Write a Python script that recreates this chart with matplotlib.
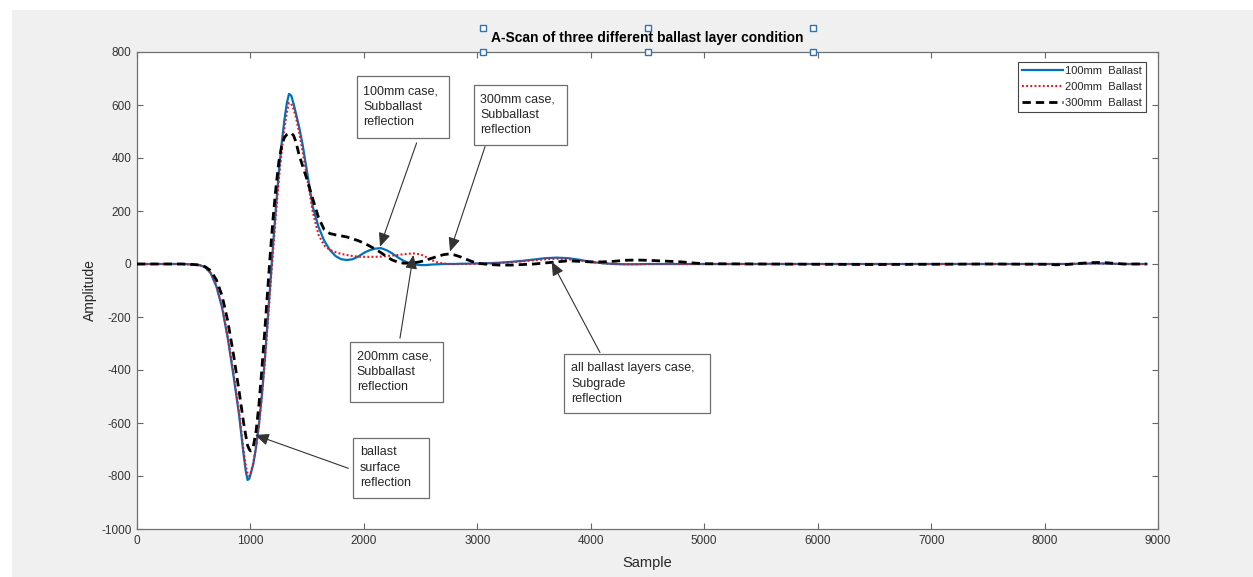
import numpy as np
import matplotlib
matplotlib.use("Agg")
import matplotlib.pyplot as plt
from matplotlib.patches import Rectangle
from matplotlib.lines import Line2D

plt.rcParams['font.family'] = ['Liberation Sans', 'DejaVu Sans']
plt.rcParams['axes.unicode_minus'] = False

# ---------------- data ----------------
sample = [0, 400, 500, 550, 600, 650, 700, 750, 800, 850, 900, 940, 960, 975, 990,
          1000, 1025, 1050, 1075, 1100, 1125, 1150, 1175, 1200, 1225, 1250, 1275,
          1300, 1320, 1340, 1360, 1380, 1400, 1430, 1460, 1500, 1550, 1600, 1650,
          1700, 1750, 1800, 1850, 1900, 1950, 2000, 2050, 2100, 2150, 2200, 2250,
          2300, 2350, 2400, 2450, 2500, 2550, 2600, 2650, 2700, 2750, 2800, 2850,
          2900, 2950, 3000, 3100, 3200, 3300, 3400, 3500, 3600, 3700, 3800, 3900,
          4000, 4100, 4200, 4300, 4400, 4500, 4600, 4700, 4800, 4900, 5000, 5500,
          6000, 6500, 7000, 7500, 8000, 8100, 8200, 8300, 8400, 8500, 8600, 8700,
          8800, 8900]

ballast_100 = [0, 0, -2, -4, -12, -35, -85, -165, -280, -420, -570, -720, -785, -815, -810,
               -795, -755, -690, -605, -500, -370, -225, -75, 75, 215, 345, 455,
               545, 605, 642, 635, 605, 570, 515, 450, 345, 215, 140, 88,
               53, 30, 18, 15, 18, 28, 42, 52, 58, 60, 52, 40,
               25, 12, 3, -2, -4, -4, -2, -1, 0, 0, 0, 1,
               1, 2, 2, 3, 5, 8, 12, 17, 22, 24, 22, 16,
               8, 3, 0, -1, -1, 0, 0, 0, 0, 0, 0, 0,
               0, 0, 0, 0, 0, 0, 0, 1, 2, 2, 1, 0,
               0, 0]

ballast_200 = [0, 0, -2, -4, -12, -34, -82, -160, -275, -410, -560, -705, -765, -792, -800,
               -792, -750, -690, -605, -500, -375, -235, -90, 55, 190, 315, 425,
               515, 570, 608, 605, 585, 555, 495, 425, 325, 195, 110, 70,
               53, 45, 38, 34, 30, 28, 27, 27, 27, 28, 30, 32,
               34, 37, 39, 40, 36, 26, 14, 6, 2, 0, 0, 0,
               0, 0, 1, 2, 4, 7, 10, 14, 18, 20, 18, 13,
               7, 3, 0, -1, -1, 0, 0, 0, 0, 0, 0, 0,
               0, 0, 0, 0, 0, 0, 0, 1, 2, 2, 1, 0,
               0, 0]

ballast_300 = [0, 0, -2, -4, -10, -25, -60, -120, -215, -340, -480, -600, -650, -685, -700,
               -705, -690, -630, -530, -400, -260, -110, 40, 175, 290, 385, 445,
               478, 488, 493, 494, 485, 462, 410, 370, 317, 245, 175, 130,
               115, 110, 106, 102, 95, 88, 79, 68, 56, 43, 28, 15,
               7, 3, 3, 5, 9, 15, 22, 29, 35, 38, 34, 27,
               18, 10, 3, -2, -4, -4, -2, 0, 4, 8, 12, 10,
               8, 8, 10, 14, 15, 14, 12, 10, 8, 4, 1, 0,
               -1, -2, -1, 0, -1, -3, -2, 2, 5, 6, 3, 0,
               0, 0]

series_labels = ['100mm  Ballast', '200mm  Ballast', '300mm  Ballast']
x_ticks = [0, 1000, 2000, 3000, 4000, 5000, 6000, 7000, 8000, 9000]
y_ticks = [-1000, -800, -600, -400, -200, 0, 200, 400, 600, 800]

title_text = 'A-Scan of three different ballast layer condition'

# annotations: text, box (x0, x1, y_bottom, y_top), text x, arrow tail, arrow tip
notes = [
    ('100mm case,\nSubballast\nreflection', (1939, 2750, 476, 710), 1992, (2465, 457), (2142, 65)),
    ('300mm case,\nSubballast\nreflection', (2971, 3790, 449, 676), 3024, (3068, 443), (2759, 47)),
    ('200mm case,\nSubballast\nreflection', (1878, 2700, -522, -293), 1936, (2318, -280), (2436, 34)),
    ('ballast\nsurface\nreflection', (1907, 2577, -882, -655), 1966, (1863, -771), (1040, -645)),
    ('all ballast layers case,\nSubgrade\nreflection', (3767, 5051, -563, -339), 3826, (4081, -334), (3655, 9)),
]

# ---------------- figure ----------------
W, H = 1253, 577
fig = plt.figure(figsize=(W / 100, H / 100), dpi=100, facecolor='#f0f0f0')
fig.patches.append(Rectangle((0, 1 - 10 / H), 1, 10 / H, transform=fig.transFigure,
                             facecolor='white', edgecolor='none', zorder=0))
fig.patches.append(Rectangle((0, 0), 12 / W, 1, transform=fig.transFigure,
                             facecolor='white', edgecolor='none', zorder=0))

ax = fig.add_axes([137 / W, (H - 529) / H, (1158 - 137) / W, (529 - 52) / H])
ax.set_facecolor('white')

ax.plot(sample, ballast_100, color='#0072BD', lw=1.6, label=series_labels[0], zorder=3)
ax.plot(sample, ballast_200, color='#e8141c', lw=1.5, linestyle=(0, (0.9, 1.1)),
        label=series_labels[1], zorder=4)
ax.plot(sample, ballast_300, color='black', lw=2.0, linestyle=(0, (3.0, 1.8)),
        label=series_labels[2], zorder=5)

ax.set_xlim(0, 9000)
ax.set_ylim(-1000, 800)
ax.set_xticks(x_ticks)
ax.set_yticks(y_ticks)
ax.tick_params(direction='in', length=4.5, width=0.8, colors='#666666',
               labelcolor='#333333', labelsize=8.5, top=True, right=True, pad=4)
for s in ax.spines.values():
    s.set_color('#707070')
    s.set_linewidth(0.9)

ax.set_xlabel('Sample', fontsize=10.5, color='#262626', labelpad=7)
ax.set_ylabel('Amplitude', fontsize=10, color='#262626', labelpad=3)
ax.set_title(title_text, fontsize=10, fontweight='bold', color='black', pad=7)

leg = ax.legend(loc='upper right', bbox_to_anchor=(0.988, 0.979), borderaxespad=0,
                fontsize=8, fancybox=False, framealpha=1, edgecolor='#444444',
                handlelength=3.7, handletextpad=0.2, labelspacing=0.55,
                borderpad=0.35)
leg.get_frame().set_linewidth(0.8)
for t in leg.get_texts():
    t.set_color('#262626')

for text, (x0, x1, yb, yt), tx, tail, tip in notes:
    ax.add_patch(Rectangle((x0, yb), x1 - x0, yt - yb, facecolor='white',
                           edgecolor='#6e6e6e', lw=0.9, zorder=6))
    ax.text(tx, (yb + yt) / 2, text, ha='left', va='center', fontsize=9,
            color='#262626', linespacing=1.38, zorder=7)
    ax.annotate('', xy=tip, xytext=tail,
                arrowprops=dict(arrowstyle='-|>,head_length=0.7,head_width=0.3',
                                color='#333333', lw=0.8, shrinkA=0, shrinkB=0,
                                mutation_scale=12),
                zorder=8)

hx = [483, 648, 813, 483, 648, 813]
hy = [28, 28, 28, 52, 52, 52]
fig.add_artist(Line2D([v / W for v in hx], [1 - v / H for v in hy], transform=fig.transFigure,
                      linestyle='none', marker='s', markersize=4.5, markerfacecolor='white',
                      markeredgecolor='#2f72b8', markeredgewidth=1.0, zorder=10))

fig.savefig('out.png', dpi=100, facecolor=fig.get_facecolor())
